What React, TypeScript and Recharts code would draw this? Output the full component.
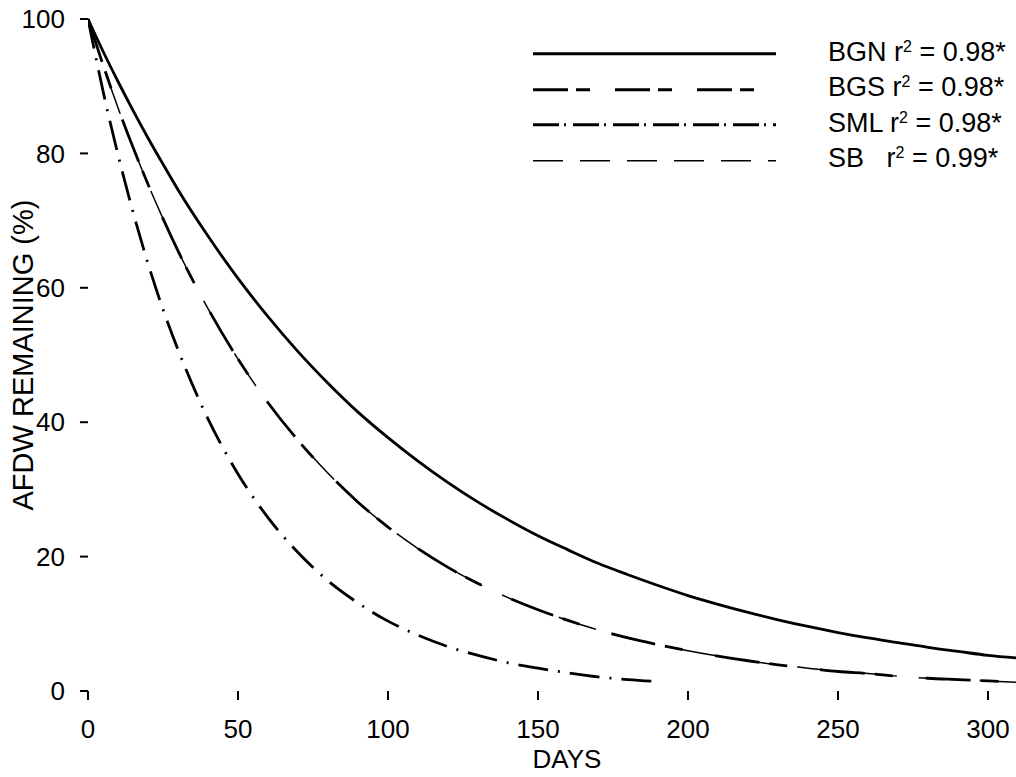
import React from "react";
import { LineChart, Line, XAxis, YAxis, Legend, Label } from "recharts";

const FONT = "'Liberation Sans', Arial, Helvetica, sans-serif";

// sampling days and AFDW remaining (%) for each litter type
const DAYS = [
  0, 5, 10, 15, 20, 25, 30, 40, 50, 60, 70, 80, 90, 100, 110, 120, 130, 140,
  150, 160, 170, 180, 190, 200, 210, 220, 230, 240, 250, 260, 270, 280, 290,
  300, 310,
];
const BGN = [
  100, 95.2, 90.7, 86.4, 82.3, 78.4, 74.6, 67.7, 61.4, 55.7, 50.5, 45.8, 41.5,
  37.7, 34.2, 31.0, 28.1, 25.5, 23.1, 21.0, 19.0, 17.3, 15.7, 14.2, 12.9, 11.7,
  10.6, 9.6, 8.7, 7.9, 7.2, 6.5, 5.9, 5.3, 4.9,
];
const BGS = [
  100, 93.2, 86.8, 80.9, 75.4, 70.3, 65.5, 56.9, 49.4, 42.9, 37.3, 32.4, 28.1,
  24.4, 21.2, 18.4, 16.0, 13.9, 12.1, 10.5, 9.1, 7.9, 6.9, 6.0, 5.2, 4.5, 3.9,
  3.4, 2.9, 2.6, 2.2, 1.9, 1.7, 1.5, 1.3,
];
const SML = [
  100, 89.3, 79.8, 71.3, 63.6, 56.8, 50.8, 40.5, 32.3, 25.8, 20.6, 16.4, 13.1,
  10.4, 8.3, 6.6, 5.3, 4.2, 3.4, 2.7, 2.1, 1.7, 1.4, null, null, null, null,
  null, null, null, null, null, null, null, null,
];
// SB runs on top of BGS for the whole period
const SB = [
  100, 93.2, 86.8, 80.9, 75.4, 70.3, 65.5, 56.9, 49.4, 42.9, 37.3, 32.4, 28.1,
  24.4, 21.2, 18.4, 16.0, 13.9, 12.1, 10.5, 9.1, 7.9, 6.9, 6.0, 5.2, 4.5, 3.9,
  3.4, 2.9, 2.6, 2.2, 1.9, 1.7, 1.5, 1.3,
];

const X_TICKS = [0, 50, 100, 150, 200, 250, 300];
const Y_TICKS = [0, 20, 40, 60, 80, 100];

const NAMES = ["BGN", "BGS", "SML", "SB"];
const R2 = ["0.98*", "0.98*", "0.98*", "0.99*"];

const data = DAYS.map((day, i) => ({
  day,
  BGN: BGN[i],
  BGS: BGS[i],
  SML: SML[i],
  SB: SB[i],
}));

// line styles: plot dash and key dash
const STYLE: Record<string, { width: number; dash?: string; keyDash?: string; gap: string }> = {
  BGN: { width: 2.8, gap: " " },
  BGS: { width: 2.8, dash: "45 10 18 33", keyDash: "35 8 14 25", gap: " " },
  SML: { width: 2.8, dash: "30 10 2 10", keyDash: "26 5 2 7", gap: " " },
  SB: { width: 1.5, dash: "39 22", keyDash: "30 17", gap: "   " },
};

function KeyBox() {
  return (
    <div style={{ fontFamily: FONT, fontSize: 27, color: "#000" }}>
      {NAMES.map((n, i) => (
        <div key={n} style={{ display: "flex", alignItems: "center", height: 35.5 }}>
          <svg width={243} height={35.5} style={{ display: "block" }}>
            <line
              x1={0}
              x2={243}
              y1={17.75}
              y2={17.75}
              stroke="#000"
              strokeWidth={STYLE[n].width}
              strokeDasharray={STYLE[n].keyDash}
            />
          </svg>
          <span style={{ marginLeft: 52, whiteSpace: "pre", lineHeight: "30px" }}>
            {n}
            {STYLE[n].gap}r
            <span style={{ fontSize: 16, position: "relative", top: -9 }}>2</span>
            {" = " + R2[i]}
          </span>
        </div>
      ))}
    </div>
  );
}

function YTitle(props: any) {
  const vb = props.viewBox;
  const cx = vb.x + 14.5;
  const cy = vb.y + vb.height / 2;
  return (
    <text
      x={cx}
      y={cy}
      transform={`rotate(-90, ${cx}, ${cy})`}
      textAnchor="middle"
      dominantBaseline="central"
      fontFamily={FONT}
      fontSize={29}
      fill="#000"
    >
      AFDW REMAINING (%)
    </text>
  );
}

function XTitle(props: any) {
  const vb = props.viewBox;
  return (
    <text
      x={vb.x + vb.width / 2 + 15}
      y={768}
      textAnchor="middle"
      fontFamily={FONT}
      fontSize={26}
      fill="#000"
    >
      DAYS
    </text>
  );
}

const tickStyle = { fontFamily: FONT, fontSize: 26, fill: "#000" };

export default function App() {
  return (
    <div style={{ position: "absolute", left: 0, top: 0, background: "#fff" }}>
      <LineChart
        width={1016}
        height={777}
        data={data}
        margin={{ top: 19, right: 0, bottom: 36, left: 8 }}
      >
        <XAxis
          dataKey="day"
          type="number"
          domain={[0, 309.33]}
          allowDataOverflow
          ticks={X_TICKS}
          axisLine={false}
          tickSize={9}
          tickMargin={20}
          tickLine={{ stroke: "#000", strokeWidth: 2 }}
          tick={tickStyle}
          height={50}
        >
          <Label content={<XTitle />} />
        </XAxis>
        <YAxis
          type="number"
          domain={[0, 100]}
          ticks={Y_TICKS}
          axisLine={false}
          tickSize={8}
          tickMargin={15}
          tickLine={{ stroke: "#000", strokeWidth: 2 }}
          tick={tickStyle}
          width={80}
        >
          <Label content={<YTitle />} />
        </YAxis>
        <Legend
          layout="vertical"
          align="center"
          verticalAlign="middle"
          content={<KeyBox />}
          wrapperStyle={{ left: 533, top: 36, width: 483 }}
        />
        {NAMES.map((n) => (
          <Line
            key={n}
            dataKey={n}
            type="monotone"
            stroke="#000"
            strokeWidth={STYLE[n].width}
            strokeDasharray={STYLE[n].dash}
            dot={false}
            activeDot={false}
            isAnimationActive={false}
          />
        ))}
      </LineChart>
    </div>
  );
}
